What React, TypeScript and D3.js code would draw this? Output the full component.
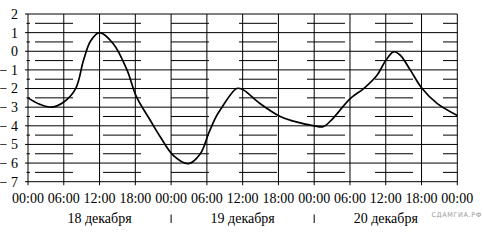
import React from "react";
import * as d3 from "d3";

const hours: number[] = [0, 2, 4, 6, 8, 9.3, 10.5, 12, 14.3, 16.6, 18.2, 20.5, 22.2, 24.4, 26.9, 28.9, 30.3, 31.4, 32.2, 35, 36, 38.9, 42.3, 44.5, 48, 49.5, 51, 54, 56.3, 58.5, 60, 61.3, 62.4, 64.1, 66.1, 68.6, 72];
const temps: number[] = [-2.5, -2.85, -3.0, -2.72, -2.0, -0.5, 0.55, 1.0, 0.4, -1.0, -2.45, -3.7, -4.6, -5.6, -6.03, -5.5, -4.4, -3.6, -3.17, -2.0, -2.05, -2.8, -3.5, -3.75, -4.0, -4.05, -3.65, -2.55, -2.0, -1.3, -0.5, -0.03, -0.2, -1.0, -2.0, -2.8, -3.45];
const xTickHours: number[] = [0, 6, 12, 18, 24, 30, 36, 42, 48, 54, 60, 66, 72];
const xTickLabels: string[] = ["00:00", "06:00", "12:00", "18:00", "00:00", "06:00", "12:00", "18:00", "00:00", "06:00", "12:00", "18:00", "00:00"];
const yTicks: number[] = [2, 1, 0, -1, -2, -3, -4, -5, -6, -7];
const halfTicks: number[] = [1.5, 0.5, -0.5, -1.5, -2.5, -3.5, -4.5, -5.5, -6.5];
const dayLabels: string[] = ["18 декабря", "19 декабря", "20 декабря"];
const dayCenters: number[] = [12, 36, 60];
const daySeparators: number[] = [24, 48];

export default function App() {
  const W = 483, H = 241;
  const x = d3.scaleLinear().domain([0, 72]).range([28, 457.3]);
  const y = d3.scaleLinear().domain([2, -7]).range([14, 181.7]);
  const pts: [number, number][] = hours.map((h, i) => [h, temps[i]]);
  const line = d3.line<[number, number]>().x(d => x(d[0])).y(d => y(d[1])).curve(d3.curveCatmullRom.alpha(0.5));
  const font = "'Liberation Serif', 'Times New Roman', serif";
  const fmt = (v: number) => (v < 0 ? "\u2212 " + Math.abs(v) : String(v));
  return (
    <svg width={W} height={H} style={{ position: "absolute", left: 0, top: 0, background: "#fff" }}>
      <rect x={0} y={0} width={W} height={H} fill="#fff" />
      {halfTicks.map(v => (
        <g key={"h" + v}>
          <line x1={35} x2={x(72)} y1={y(v)} y2={y(v)} stroke="#000" strokeWidth={1} strokeDasharray="38 30" />
          <line x1={26.5} x2={30} y1={y(v)} y2={y(v)} stroke="#000" strokeWidth={1} />
        </g>
      ))}
      {yTicks.map(v => (
        <line key={"y" + v} x1={25} x2={x(72)} y1={y(v)} y2={y(v)} stroke="#000" strokeWidth={1} />
      ))}
      {xTickHours.map(h => (
        <line key={"v" + h} x1={x(h)} x2={x(h)} y1={y(2)} y2={y(-7) + 3.5} stroke="#000" strokeWidth={1} />
      ))}
      {yTicks.map(v => (
        <text key={"yl" + v} x={18} y={y(v)} dy="0.35em" textAnchor="end" fontFamily={font} fontSize={14} fill="#000">{fmt(v)}</text>
      ))}
      {xTickHours.map((h, i) => (
        <text key={"xl" + i} x={x(h)} y={203} textAnchor="middle" fontFamily={font} fontSize={14} fill="#000">{xTickLabels[i]}</text>
      ))}
      {dayLabels.map((d, i) => (
        <text key={"d" + i} x={x(dayCenters[i])} y={223} textAnchor="middle" fontFamily={font} fontSize={14} fill="#000">{d}</text>
      ))}
      {daySeparators.map(h => (
        <line key={"s" + h} x1={x(h)} x2={x(h)} y1={214.5} y2={223} stroke="#000" strokeWidth={1} />
      ))}
      <path d={line(pts) || ""} fill="none" stroke="#000" strokeWidth={1.7} />
      <text x={482} y={217} textAnchor="end" fontFamily="'DejaVu Sans', sans-serif" fontSize={6.5} letterSpacing={0.6} fill="#999">СДАМГИА.РФ</text>
    </svg>
  );
}
